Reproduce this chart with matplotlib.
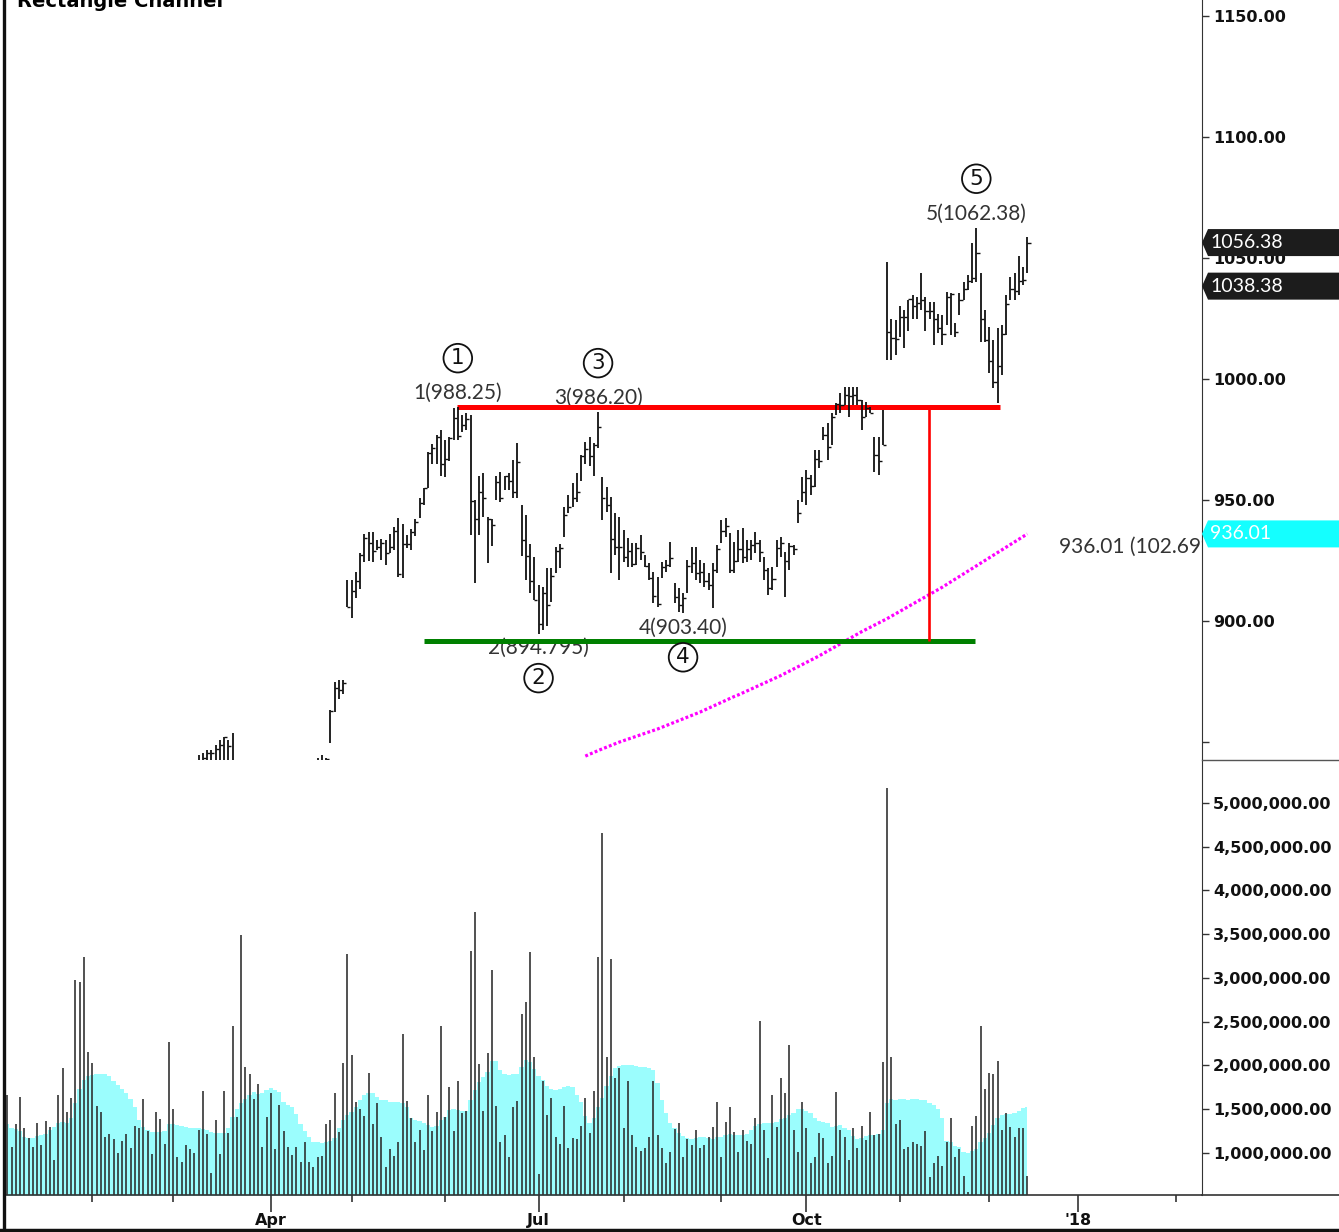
import numpy as np
import matplotlib
matplotlib.use("Agg")
import matplotlib.pyplot as plt
from matplotlib.lines import Line2D
from matplotlib.patches import Polygon

# ---- daily bars, one per trading day (index 0 = first session of 2017) ----
highs = [
    789.6, 791.3, 794.5, 807.9, 809.9, 809.1, 808.2, 807.4, 811.2, 807.1,
    809.5, 806.2, 806.5, 820.9, 825.0, 837.4, 838.0, 833.5, 816.0, 801.9,
    802.1, 801.3, 802.0, 804.0, 810.0, 810.0, 810.0, 815.0, 820.0, 821.0,
    823.0, 825.0, 829.0, 833.0, 834.0, 834.5, 830.0, 831.0, 829.0, 836.0,
    835.0, 831.0, 828.0, 833.0, 837.0, 844.6, 845.3, 846.7, 846.7, 848.8,
    850.8, 852.2, 850.8, 853.7, 833.0, 832.0, 821.0, 822.0, 825.0, 833.0,
    833.7, 832.0, 840.0, 838.0, 839.0, 837.0, 835.5, 828.0, 828.0, 827.0,
    826.0, 838.0, 840.0, 843.5, 844.5, 843.5, 863.2, 874.8, 875.6, 875.6,
    916.9, 916.9, 920.2, 928.1, 936.0, 937.0, 937.0, 933.5, 934.0, 933.5,
    936.0, 939.0, 942.6, 940.0, 935.5, 938.0, 942.0, 951.0, 955.0, 970.0,
    973.0, 977.0, 979.0, 975.0, 976.0, 988.0, 988.25, 985.0, 986.0, 985.0,
    950.0, 960.0, 961.0, 943.0, 942.0, 960.0, 961.6, 960.0, 961.0, 966.5,
    973.5, 948.0, 944.0, 932.0, 926.5, 915.0, 914.0, 922.0, 922.0, 930.6,
    932.0, 947.0, 952.0, 957.0, 961.0, 968.6, 974.0, 976.0, 973.5, 986.2,
    959.5, 955.4, 951.2, 944.6, 943.0, 937.6, 934.3, 932.2, 932.2, 935.5,
    927.3, 924.0, 920.2, 918.2, 924.4, 925.2, 932.6, 915.7, 913.6, 911.6,
    925.2, 930.6, 930.6, 925.2, 924.0, 919.8, 924.0, 931.4, 941.7, 942.6,
    936.4, 932.6, 937.6, 938.4, 933.5, 933.5, 936.8, 933.5, 926.4, 921.9,
    922.3, 933.5, 934.7, 928.5, 932.2, 931.4, 950.0, 959.5, 962.4, 960.3,
    970.7, 970.7, 980.2, 981.8, 986.0, 990.1, 994.2, 996.7, 996.7, 996.7,
    996.7, 991.3, 990.5, 988.4, 976.0, 976.0, 987.2, 1048.3, 1025.0, 1024.4,
    1030.0, 1028.5, 1032.6, 1034.7, 1034.0, 1043.8, 1034.0, 1031.8, 1031.8, 1027.0,
    1026.4, 1036.0, 1035.5, 1023.0, 1035.5, 1040.0, 1043.0, 1056.0, 1062.38, 1044.0,
    1028.5, 1021.5, 1016.0, 1021.0, 1022.3, 1034.7, 1042.0, 1043.8, 1051.0, 1046.3,
    1058.7,
]
lows = [
    775.8, 783.2, 785.0, 792.2, 802.8, 803.5, 797.0, 800.4, 804.0, 800.4,
    801.8, 801.5, 801.0, 803.7, 811.1, 829.0, 827.0, 817.9, 799.1, 790.5,
    792.0, 791.2, 796.0, 799.0, 801.0, 802.0, 804.0, 809.0, 812.0, 816.0,
    815.0, 818.0, 823.0, 826.0, 829.0, 828.0, 824.0, 826.0, 821.0, 829.0,
    828.0, 826.0, 821.0, 825.0, 830.0, 834.0, 836.0, 840.0, 840.5, 841.0,
    841.5, 841.0, 840.0, 829.0, 822.0, 815.5, 812.0, 808.0, 815.0, 820.0,
    826.0, 825.0, 826.0, 829.0, 827.0, 826.0, 822.0, 820.0, 822.0, 818.0,
    817.0, 822.0, 833.0, 834.0, 836.0, 837.0, 849.6, 862.4, 868.0, 870.0,
    905.8, 901.2, 909.5, 913.2, 924.4, 924.8, 924.4, 929.3, 925.2, 923.1,
    928.1, 929.3, 918.2, 918.0, 930.0, 929.3, 935.0, 942.6, 948.0, 955.0,
    965.0, 965.0, 960.0, 959.5, 966.0, 975.0, 975.0, 978.0, 979.0, 935.5,
    915.7, 935.5, 943.0, 924.0, 931.0, 950.0, 949.0, 954.0, 954.0, 951.0,
    951.0, 927.0, 917.0, 911.6, 908.7, 894.795, 896.5, 898.0, 908.0, 920.0,
    922.0, 934.7, 944.6, 947.0, 949.0, 958.0, 965.0, 964.0, 960.0, 971.5,
    941.7, 945.0, 919.8, 927.3, 916.9, 924.4, 922.3, 922.3, 923.1, 925.2,
    922.3, 916.9, 907.4, 905.8, 917.8, 920.2, 922.3, 907.4, 903.7, 903.4,
    911.6, 919.8, 916.9, 915.7, 914.0, 912.8, 905.4, 919.8, 932.2, 934.7,
    919.8, 919.8, 924.4, 924.0, 924.4, 925.2, 928.1, 924.4, 916.9, 910.7,
    912.8, 922.3, 926.4, 909.9, 921.1, 927.3, 940.5, 949.2, 947.9, 952.1,
    955.4, 963.2, 974.8, 966.5, 972.7, 985.1, 986.0, 989.3, 984.3, 989.3,
    989.3, 978.9, 984.3, 985.9, 961.6, 960.3, 972.7, 1007.9, 1008.0, 1010.0,
    1017.4, 1012.8, 1020.0, 1025.0, 1025.0, 1028.5, 1020.0, 1025.0, 1014.0, 1019.0,
    1014.0, 1022.3, 1018.0, 1017.4, 1026.4, 1032.6, 1036.8, 1039.7, 1040.0, 1015.3,
    1015.3, 1002.5, 996.3, 990.0, 1001.7, 1018.0, 1032.6, 1032.6, 1034.7, 1039.0,
    1043.8,
]
closes = [
    786.1, 786.9, 794.0, 806.2, 806.6, 804.8, 807.9, 806.4, 807.9, 804.6,
    806.1, 802.2, 805.0, 819.3, 823.9, 835.7, 832.2, 823.3, 802.3, 796.8,
    795.7, 798.5, 801.5, 801.3, 806.9, 808.4, 809.6, 813.7, 819.2, 820.5,
    818.0, 824.2, 828.1, 831.7, 830.8, 831.3, 828.6, 829.3, 823.2, 835.2,
    830.6, 829.1, 827.8, 831.9, 835.4, 838.7, 843.3, 845.5, 845.6, 847.2,
    848.8, 852.1, 848.4, 830.5, 829.6, 817.6, 814.4, 819.5, 820.9, 831.4,
    831.5, 829.6, 838.6, 834.6, 831.4, 835.7, 824.7, 824.7, 823.4, 824.3,
    823.6, 837.2, 836.8, 838.2, 841.7, 843.2, 862.8, 872.3, 871.7, 874.3,
    906.0, 912.5, 916.4, 927.1, 934.3, 932.2, 928.8, 930.6, 932.2, 928.0,
    930.8, 937.1, 919.6, 932.0, 931.7, 936.9, 941.0, 948.8, 954.9, 969.5,
    971.5, 975.9, 964.9, 966.9, 975.6, 983.7, 976.6, 980.9, 983.4, 949.8,
    942.3, 953.4, 950.8, 942.3, 939.8, 957.4, 951.0, 960.0, 958.0, 953.4,
    965.6, 933.5, 927.0, 916.5, 908.7, 898.7, 911.7, 906.7, 918.6, 928.8,
    930.1, 943.8, 947.2, 950.7, 953.4, 968.2, 970.9, 968.2, 972.9, 980.3,
    950.7, 947.8, 934.1, 930.5, 930.8, 926.5, 929.1, 923.6, 930.1, 928.5,
    922.9, 917.6, 910.4, 907.2, 922.2, 923.0, 926.0, 910.0, 906.7, 909.4,
    922.9, 924.1, 920.0, 920.2, 916.7, 915.0, 921.3, 929.6, 937.3, 939.3,
    921.0, 924.9, 929.6, 926.4, 929.9, 931.6, 932.4, 928.5, 920.9, 913.5,
    917.3, 930.0, 932.2, 924.9, 931.0, 929.7, 944.7, 953.3, 959.1, 955.9,
    967.0, 966.0, 977.0, 972.1, 984.5, 989.6, 989.3, 993.2, 992.8, 993.5,
    991.2, 984.5, 988.2, 986.0, 968.5, 966.0, 972.9, 1019.3, 1017.1, 1016.6,
    1025.5, 1025.6, 1033.1, 1030.0, 1031.3, 1032.5, 1028.2, 1028.3, 1024.9, 1020.9,
    1018.4, 1034.0, 1035.0, 1019.4, 1032.6, 1037.4, 1040.3, 1041.6, 1052.0, 1025.0,
    1016.1, 1007.5, 998.7, 1005.2, 1018.4, 1030.9, 1037.1, 1036.2, 1040.6, 1041.1,
    1056.38,
]
# volume in millions of shares
volume_m = [
    1.66, 1.07, 1.33, 1.64, 1.29, 1.17, 1.07, 1.34, 1.09, 1.37,
    1.30, 0.92, 1.66, 1.97, 1.47, 1.63, 2.98, 2.95, 3.24, 2.15,
    2.03, 1.54, 1.47, 1.18, 1.22, 1.16, 1.00, 1.14, 1.22, 1.06,
    1.31, 1.29, 1.62, 1.25, 0.99, 1.47, 1.39, 1.10, 2.27, 1.50,
    0.95, 0.90, 1.09, 1.04, 1.00, 1.26, 1.71, 1.22, 0.77, 1.38,
    0.99, 1.71, 1.23, 2.45, 1.41, 3.49, 1.98, 1.90, 1.62, 1.79,
    1.07, 1.41, 1.69, 1.04, 1.55, 1.25, 1.07, 0.98, 1.07, 0.90,
    1.13, 0.90, 0.84, 0.95, 0.96, 1.33, 1.38, 1.69, 1.24, 2.03,
    3.27, 2.12, 1.58, 1.50, 1.42, 1.91, 1.33, 1.57, 1.18, 0.84,
    1.04, 0.96, 1.13, 2.36, 1.59, 1.40, 1.13, 1.26, 1.03, 1.66,
    1.25, 1.47, 2.45, 1.41, 1.75, 1.25, 1.82, 1.46, 1.48, 3.31,
    3.75, 2.02, 1.48, 2.14, 3.09, 1.54, 1.13, 1.21, 0.95, 1.53,
    1.59, 2.59, 2.73, 3.30, 2.10, 0.76, 1.82, 1.43, 1.63, 1.18,
    1.10, 1.54, 1.06, 1.17, 1.16, 1.31, 1.63, 1.23, 1.71, 3.24,
    4.66, 2.10, 3.22, 1.86, 1.97, 1.29, 1.82, 1.21, 1.07, 1.02,
    1.06, 1.18, 1.82, 1.21, 1.06, 0.89, 1.01, 1.27, 1.34, 0.95,
    1.16, 1.09, 1.26, 1.06, 1.09, 1.18, 1.30, 1.58, 0.95, 1.35,
    1.53, 1.24, 1.01, 1.26, 1.14, 1.10, 1.40, 2.51, 1.26, 0.94,
    1.66, 1.30, 1.86, 1.69, 2.23, 1.26, 1.01, 1.58, 1.29, 0.89,
    0.95, 1.23, 1.17, 0.89, 0.97, 1.70, 1.26, 1.18, 0.92, 1.29,
    1.06, 1.31, 1.15, 1.47, 1.21, 1.22, 2.04, 5.17, 2.10, 1.33,
    1.38, 1.04, 1.07, 1.12, 1.10, 1.08, 1.25, 0.73, 0.89, 0.96,
    0.85, 1.13, 1.40, 0.95, 1.04, 0.74, 0.55, 1.31, 1.42, 2.45,
    1.73, 1.91, 1.90, 2.05, 1.26, 1.46, 1.30, 1.18, 1.29, 1.29,
    0.74,
]
# average-volume band (cyan), millions
vol_avg_m = [
    1.33, 1.29, 1.27, 1.25, 1.18, 1.17, 1.17, 1.19, 1.20, 1.22,
    1.26, 1.30, 1.34, 1.35, 1.34, 1.40, 1.57, 1.73, 1.83, 1.88,
    1.89, 1.90, 1.90, 1.90, 1.88, 1.82, 1.78, 1.73, 1.68, 1.62,
    1.52, 1.38, 1.30, 1.26, 1.24, 1.24, 1.24, 1.25, 1.33, 1.33,
    1.32, 1.31, 1.30, 1.28, 1.28, 1.28, 1.27, 1.26, 1.24, 1.23,
    1.23, 1.23, 1.28, 1.41, 1.50, 1.57, 1.62, 1.66, 1.70, 1.67,
    1.68, 1.72, 1.74, 1.72, 1.70, 1.58, 1.55, 1.52, 1.45, 1.33,
    1.25, 1.18, 1.13, 1.12, 1.11, 1.12, 1.14, 1.17, 1.28, 1.38,
    1.43, 1.47, 1.52, 1.60, 1.66, 1.69, 1.68, 1.64, 1.61, 1.60,
    1.58, 1.58, 1.58, 1.57, 1.52, 1.40, 1.38, 1.36, 1.34, 1.32,
    1.30, 1.31, 1.38, 1.41, 1.49, 1.50, 1.49, 1.48, 1.48, 1.60,
    1.72, 1.81, 1.87, 1.92, 2.05, 2.05, 1.95, 1.90, 1.89, 1.90,
    1.90, 1.98, 2.06, 2.04, 1.96, 1.88, 1.83, 1.77, 1.73, 1.72,
    1.73, 1.75, 1.76, 1.75, 1.66, 1.58, 1.42, 1.34, 1.40, 1.53,
    1.63, 1.76, 1.88, 1.97, 1.99, 2.00, 2.00, 2.00, 1.99, 1.98,
    1.98, 1.97, 1.95, 1.80, 1.60, 1.46, 1.34, 1.28, 1.23, 1.19,
    1.17, 1.16, 1.17, 1.18, 1.18, 1.17, 1.16, 1.18, 1.18, 1.20,
    1.22, 1.21, 1.20, 1.21, 1.22, 1.26, 1.31, 1.33, 1.34, 1.34,
    1.34, 1.35, 1.39, 1.40, 1.43, 1.46, 1.50, 1.50, 1.48, 1.46,
    1.40, 1.36, 1.35, 1.34, 1.30, 1.31, 1.32, 1.29, 1.26, 1.19,
    1.16, 1.17, 1.19, 1.21, 1.21, 1.22, 1.26, 1.57, 1.62, 1.61,
    1.62, 1.62, 1.61, 1.62, 1.62, 1.60, 1.60, 1.57, 1.55, 1.50,
    1.40, 1.14, 1.12, 1.08, 1.07, 1.01, 1.00, 1.02, 1.05, 1.13,
    1.17, 1.23, 1.32, 1.40, 1.43, 1.44, 1.45, 1.46, 1.48, 1.51,
    1.52,
]
# long moving average (magenta dots), visible part starts at bar 136
ma_start = 136
ma200 = [
    844.2, 845.0, 845.7, 846.5, 847.2, 847.9, 848.6, 849.3, 850.0, 850.6,
    851.2, 851.8, 852.4, 853.0, 853.6, 854.2, 854.8, 855.4, 856.1, 856.8,
    857.5, 858.2, 858.9, 859.6, 860.3, 861.0, 861.7, 862.4, 863.2, 864.0,
    864.8, 865.6, 866.4, 867.2, 868.0, 868.8, 869.5, 870.3, 871.1, 871.9,
    872.7, 873.5, 874.3, 875.1, 875.9, 876.7, 877.5, 878.4, 879.3, 880.2,
    881.1, 882.0, 882.9, 883.8, 884.7, 885.6, 886.6, 887.6, 888.6, 889.6,
    890.6, 891.6, 892.6, 893.6, 894.6, 895.6, 896.5, 897.4, 898.3, 899.2,
    900.1, 901.0, 902.0, 903.0, 904.0, 905.0, 906.0, 907.0, 908.0, 909.0,
    910.0, 911.0, 912.0, 913.0, 914.0, 915.1, 916.2, 917.3, 918.4, 919.5,
    920.6, 921.7, 922.8, 923.9, 925.0, 926.1, 927.2, 928.3, 929.4, 930.5,
    931.6, 932.7, 933.8, 934.9, 936.01,
]

# wave pivots: (bar index, price, shown price text, label above?)
pivots = [
    (106, 988.25, "988.25", True),
    (125, 894.795, "894.795", False),
    (139, 986.20, "986.20", True),
    (159, 903.40, "903.40", False),
    (228, 1062.38, "1062.38", True),
]
# rectangle channel
channel_top = 988.25
channel_bottom = 891.7
top_span = (105.8, 233.6)
bottom_span = (98.0, 227.7)
target_x = 216.9

# session index of each month start, quarter labels
month_ticks = [20, 39, 62, 81, 103, 125, 145, 168, 188, 210, 231, 252, 275]
quarter_ticks = [62, 125, 188, 252]
quarter_labels = ["Apr", "Jul", "Oct", "'18"]
price_ticks = [850, 900, 950, 1000, 1050, 1100, 1150]
volume_ticks = [1.0e6, 1.5e6, 2.0e6, 2.5e6, 3.0e6, 3.5e6, 4.0e6, 4.5e6, 5.0e6]

W, H = 1339, 1232


def fx(px):
    return px / W


def fy(py):
    return 1 - py / H


def price_tag(ax, value, label, face, fg):
    # marker on the right-hand scale, box with a small notch
    tr = ax.get_yaxis_transform()
    lo, hi = ax.get_ylim()
    per_px = (hi - lo) / (ax.get_position().height * H)
    hh = 13.5 * per_px
    axw = ax.get_position().width * W
    nw = 6 / axw
    bw = (W - 1202) / axw
    poly = Polygon([(1.0, value), (1 + nw, value + hh), (1 + bw, value + hh),
                    (1 + bw, value - hh), (1 + nw, value - hh)],
                   closed=True, transform=tr, facecolor=face, edgecolor="none",
                   clip_on=False, zorder=6)
    ax.add_patch(poly)
    ax.text(1 + 8 / axw, value, label, transform=tr, color=fg, fontsize=14,
            family="Lato", va="center", ha="left", clip_on=False, zorder=7)


fig = plt.figure(figsize=(W / 100, H / 100), dpi=100)
ax_p = fig.add_axes([fx(5), fy(760), fx(1202) - fx(5), fy(0) - fy(760)])
ax_v = fig.add_axes([fx(5), fy(1195), fx(1202) - fx(5), fy(760) - fy(1195)], sharex=ax_p)

idx = np.arange(len(highs))
bar_col = "#111111"

# price panel
ax_p.vlines(idx, lows, highs, color=bar_col, lw=1.3, zorder=4)
ax_p.hlines(closes, idx, idx + 0.75, color=bar_col, lw=1.0, zorder=4)

ma_idx = np.arange(ma_start, ma_start + len(ma200))
ax_p.plot(ma_idx, ma200, color="#ff00ff", lw=2.3, ls=(0, (0.9, 0.7)), zorder=3)

ax_p.hlines(channel_top, *top_span, color="#ff0000", lw=3.6, zorder=3)
ax_p.hlines(channel_bottom, *bottom_span, color="#008000", lw=3.6, zorder=3)
ax_p.vlines(target_x, channel_bottom, channel_top, color="#ff0000", lw=1.9, zorder=3)

for n, (i, p, ptxt, above) in enumerate(pivots, start=1):
    sgn = 1 if above else -1
    ax_p.annotate(f"{n}({ptxt})", xy=(i, p), xytext=(0, sgn * 10.5),
                  textcoords="offset points", ha="center", va="center",
                  fontsize=15, family="Lato", color="#333333", zorder=2)
    ax_p.annotate(str(n), xy=(i, p), xytext=(0, 35.5 if above else -32),
                  textcoords="offset points",
                  ha="center", va="center", fontsize=15.5, family="DejaVu Sans",
                  color="#111111", zorder=5,
                  bbox=dict(boxstyle="circle,pad=0.2", fc="white", ec="#111111", lw=1.3))

ax_p.text(247.4, ma200[-1] - 5.4, f"{ma200[-1]:.2f} (102.69%)", fontsize=15,
          family="Lato", color="#333333", va="center", ha="left", clip_on=True)

ax_p.set_xlim(-0.54, 281.1)
ax_p.set_ylim(842.6, 1156.6)
ax_p.yaxis.tick_right()
ax_p.set_yticks(price_ticks)
ax_p.set_yticklabels(["" if t == 850 else f"{t:.2f}" for t in price_ticks])
ax_p.tick_params(axis="y", direction="out", length=5, width=1, color="#333333",
                 pad=3, labelsize=11.5, labelcolor="#111111")
ax_p.tick_params(axis="x", which="both", bottom=False, labelbottom=False)
for s in ["top", "left", "bottom"]:
    ax_p.spines[s].set_visible(False)
ax_p.spines["right"].set_color("#333333")

# volume panel
ax_v.fill_between(idx, 0, np.array(vol_avg_m) * 1e6, step="mid",
                  color="#9bfdfd", lw=0, zorder=1)
ax_v.vlines(idx, 0, np.array(volume_m) * 1e6, color="#2a2a2a", lw=1.15, zorder=2)
ax_v.set_ylim(0.52e6, 5.49e6)
ax_v.yaxis.tick_right()
ax_v.set_yticks(volume_ticks)
ax_v.set_yticklabels([f"{v:,.2f}" for v in volume_ticks])
ax_v.tick_params(axis="y", direction="out", length=5, width=1, color="#333333",
                 pad=3, labelsize=11.5, labelcolor="#111111")
ax_v.set_xticks(quarter_ticks)
ax_v.set_xticklabels(quarter_labels)
ax_v.set_xticks(month_ticks, minor=True)
ax_v.tick_params(axis="x", which="major", direction="out", length=12, width=1.2,
                 color="#333333", pad=1, labelsize=11.5, labelcolor="#111111")
ax_v.tick_params(axis="x", which="minor", direction="out", length=5, width=1.2,
                 color="#333333")
for s in ["top", "left"]:
    ax_v.spines[s].set_visible(False)
ax_v.spines["right"].set_color("#333333")
ax_v.spines["bottom"].set_color("#333333")
ax_v.spines["bottom"].set_linewidth(1.2)

for lbl in ax_p.get_yticklabels() + ax_v.get_yticklabels() + ax_v.get_xticklabels():
    lbl.set_fontweight("bold")

# last-value tags on the price scale
price_tag(ax_p, closes[-1], f"{closes[-1]:.2f}", "#1c1c1c", "white")
price_tag(ax_p, 1038.38, "1038.38", "#1c1c1c", "white")
price_tag(ax_p, ma200[-1], f"{ma200[-1]:.2f}", "#14ffff", "white")

# frame pieces
fig.add_artist(Line2D([fx(3.5), fx(3.5)], [0, 1], lw=2.4, color="#111111"))
fig.add_artist(Line2D([0, 1], [fy(1230.5), fy(1230.5)], lw=3.2, color="#111111"))
fig.add_artist(Line2D([fx(1202), 1], [fy(760), fy(760)], lw=1.0, color="#555555"))
fig.add_artist(Line2D([fx(1202), 1], [fy(1195), fy(1195)], lw=1.2, color="#333333"))

# title sits at the top edge, only its lower half shows
fig.text(fx(17), fy(7), "Rectangle Channel", fontsize=14, fontweight="bold",
         family="DejaVu Sans", va="baseline", ha="left")

fig.savefig("out.png", dpi=100)
